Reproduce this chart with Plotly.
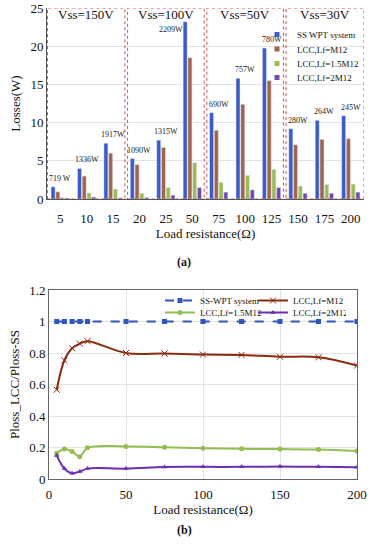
import plotly.graph_objects as go

# ---------------- data ----------------
categories = ["5", "10", "15", "20", "25", "50", "75", "100", "125", "150", "175", "200"]
ss_losses = [1.6, 4.0, 7.3, 5.3, 7.7, 23.2, 11.3, 15.8, 19.75, 9.2, 10.3, 10.9]
lcc_m12_losses = [0.95, 3.0, 6.0, 4.5, 6.75, 18.5, 9.0, 12.4, 15.5, 7.1, 7.8, 7.9]
lcc_15m12_losses = [0.2, 0.8, 1.3, 0.75, 1.5, 4.75, 2.2, 3.1, 3.9, 1.7, 1.9, 1.95]
lcc_2m12_losses = [0.1, 0.25, 0.15, 0.2, 0.5, 1.5, 0.9, 1.2, 1.5, 0.75, 0.75, 0.9]
power_labels = ["719 W", "1336W", "1917W", "1090W", "1315W", "2209W",
                "690W", "757W", "780W", "280W", "264W", "245W"]
vss_labels = ["Vss=150V", "Vss=100V", "Vss=50V", "Vss=30V"]

load_r = [5, 10, 15, 20, 25, 50, 75, 100, 125, 150, 175, 200]
ratio_ss = [1, 1, 1, 1, 1, 1, 1, 1, 1, 1, 1, 1]
ratio_m12 = [0.567, 0.754, 0.83, 0.86, 0.875, 0.80, 0.797, 0.79, 0.788, 0.776, 0.773, 0.72]
ratio_15m12 = [0.164, 0.19, 0.174, 0.142, 0.198, 0.207, 0.202, 0.195, 0.192, 0.19, 0.187, 0.178]
ratio_2m12 = [0.150, 0.066, 0.036, 0.048, 0.066, 0.066, 0.076, 0.077, 0.077, 0.08, 0.077, 0.075]

FONT = "Liberation Serif, Times New Roman, serif"
C_SS = "#3B5CC4"
C_M12 = "#A0654A"
C_15 = "#9BBB59"
C_2 = "#7048B0"

W, H = 370, 550
def X(p): return p / W
def Y(p): return 1 - p / H

fig = go.Figure()

# ---------------- top: bar chart ----------------
names_a = ["SS WPT system", "LCC,Lf=M12", "LCC,Lf=1.5M12", "LCC,Lf=2M12"]
legends_a = ["legend", "legend4", "legend5", "legend6"]
for name, vals, col, lg in zip(names_a, [ss_losses, lcc_m12_losses, lcc_15m12_losses, lcc_2m12_losses],
                               [C_SS, C_M12, C_15, C_2], legends_a):
    fig.add_trace(go.Bar(x=categories, y=vals, name=name, marker_color=col,
                         xaxis="x", yaxis="y", showlegend=False, legendgroup=name))
    # legend-only entry with a small square key, as in the original
    fig.add_trace(go.Scatter(x=[None], y=[None], mode="markers", name=name,
                             marker=dict(symbol="square", size=5, color=col),
                             xaxis="x", yaxis="y", legend=lg, showlegend=True,
                             legendgroup=name, hoverinfo="skip"))

# power annotations (category axis -> category index)
for i, (v, t) in enumerate(zip(ss_losses, power_labels)):
    if categories[i] == "50":
        fig.add_annotation(x=i, y=v, text=t, xref="x", yref="y", showarrow=False,
                           yanchor="top", xshift=-21, yshift=-1,
                           font=dict(family=FONT, size=8, color="#222"))
    else:
        fig.add_annotation(x=i, y=v, text=t, xref="x", yref="y", showarrow=False,
                           yanchor="bottom", yshift=2,
                           font=dict(family=FONT, size=8, color="#222"))

# dashed group boxes
boxes = [(-0.48, 2.45), (2.55, 5.45), (5.55, 8.45), (8.55, 11.5)]
for (x0, x1), lab in zip(boxes, vss_labels):
    fig.add_shape(type="rect", xref="x", yref="y", x0=x0, x1=x1, y0=0, y1=25,
                  line=dict(color="#D05050", width=1, dash="dot"))
    fig.add_annotation(x=(x0 + x1) / 2, y=25, xref="x", yref="y", text=lab,
                       showarrow=False, yanchor="middle", yshift=-7,
                       font=dict(family=FONT, size=13, color="#111"))

# ---------------- bottom: line chart ----------------
fig.add_trace(go.Scatter(x=load_r, y=ratio_ss, name="SS-WPT system", mode="lines+markers",
                         line=dict(color="#2F55C0", width=2, dash="dash"),
                         marker=dict(symbol="square", size=5, color="#2F55C0"),
                         xaxis="x2", yaxis="y2", legend="legend2"))
fig.add_trace(go.Scatter(x=load_r, y=ratio_m12, name="LCC,Lf=M12", mode="lines+markers",
                         line=dict(color="#8B2A10", width=2, shape="spline"),
                         marker=dict(symbol="x-thin", size=6, color="#8B2A10",
                                     line=dict(color="#8B2A10", width=1)),
                         xaxis="x2", yaxis="y2", legend="legend2"))
fig.add_trace(go.Scatter(x=load_r, y=ratio_15m12, name="LCC,Lf=1.5M12", mode="lines+markers",
                         line=dict(color="#92BE50", width=2, shape="spline"),
                         marker=dict(symbol="circle", size=5, color="#92BE50"),
                         xaxis="x2", yaxis="y2", legend="legend3"))
fig.add_trace(go.Scatter(x=load_r, y=ratio_2m12, name="LCC,Lf=2M12", mode="lines+markers",
                         line=dict(color="#6A30B0", width=2, shape="spline"),
                         marker=dict(symbol="triangle-up", size=5, color="#6A30B0"),
                         xaxis="x2", yaxis="y2", legend="legend3"))

leg_common = dict(xanchor="left", yanchor="top", bgcolor="rgba(0,0,0,0)",
                  font=dict(family=FONT, size=9), itemwidth=30)

axis_font = dict(family=FONT, size=13)
fig.update_layout(
    width=W, height=H, showlegend=True,
    margin=dict(l=0, r=0, t=0, b=0, autoexpand=False),
    paper_bgcolor="white", plot_bgcolor="white",
    font=dict(family=FONT, size=13, color="#111"),
    barmode="group", bargap=0.28, bargroupgap=0.15,
    xaxis=dict(domain=[X(47), X(364)], anchor="y", type="category",
               range=[-0.5, 11.5], autorange=False,
               showline=True, linecolor="#555", linewidth=1,
               ticks="", tickfont=axis_font, ticklabelstandoff=7,
               title=dict(text="Load resistance(Ω)", font=axis_font, standoff=0),
               showgrid=False),
    yaxis=dict(domain=[Y(199), Y(8)], anchor="x", range=[0, 25], dtick=5,
               showline=True, linecolor="#555", linewidth=1,
               gridcolor="#E3E3E3", zeroline=False, ticks="",
               tickfont=axis_font,
               title=dict(text="Losses(W)", font=axis_font, standoff=6)),
    xaxis2=dict(domain=[X(49), X(357)], anchor="y2", range=[0, 200], dtick=50,
                showline=True, mirror=True, linecolor="#666", linewidth=1,
                gridcolor="#E3E3E3", zeroline=False, ticks="",
                tickfont=axis_font, ticklabelstandoff=3,
                title=dict(text="Load resistance(Ω)", font=axis_font, standoff=3)),
    yaxis2=dict(domain=[Y(479), Y(290)], anchor="x2", range=[0, 1.2], dtick=0.2,
                showline=True, mirror=True, linecolor="#666", linewidth=1,
                gridcolor="#E3E3E3", zeroline=False, ticks="",
                tickfont=axis_font,
                title=dict(text="Ploss_LCC/Ploss-SS", font=axis_font, standoff=6)),
    legend=dict(x=X(257), y=Y(20), **leg_common),
    legend4=dict(x=X(257), y=Y(34.5), **leg_common),
    legend5=dict(x=X(257), y=Y(49), **leg_common),
    legend6=dict(x=X(257), y=Y(63), **leg_common),
    legend2=dict(x=X(160), y=Y(286), orientation="h", entrywidth=48, **leg_common),
    legend3=dict(x=X(160), y=Y(298), orientation="h", entrywidth=48, **leg_common),
)

fig.add_annotation(text="<b>(a)</b>", x=X(184), y=Y(262), xref="paper", yref="paper",
                   showarrow=False, font=dict(family=FONT, size=12))
fig.add_annotation(text="<b>(b)</b>", x=X(184), y=Y(539), xref="paper", yref="paper",
                   showarrow=False, font=dict(family=FONT, size=12))

fig.write_html("out.html", config={"displayModeBar": False},
               post_script="document.body.style.margin='0';")
